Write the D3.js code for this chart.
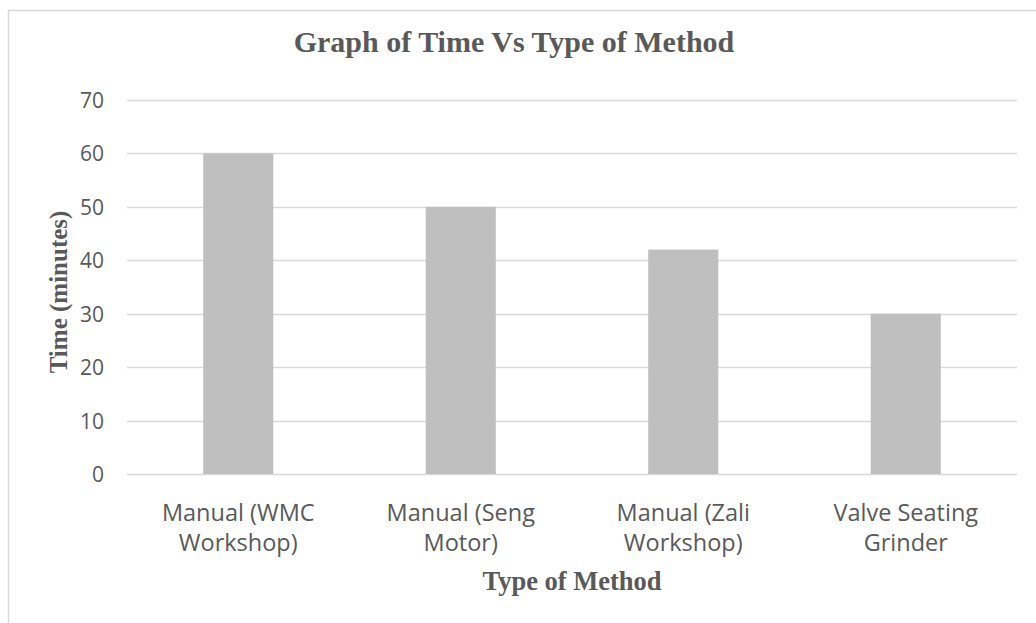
<!DOCTYPE html>
<html lang="en">
<head>
<meta charset="utf-8">
<title>Graph of Time Vs Type of Method</title>
<script src="https://cdnjs.cloudflare.com/ajax/libs/d3/7.8.5/d3.min.js"></script>
<style>
  body { margin: 0; background: #fff; }
  svg { display: block; }
  .tick-label { font-family: "Open Sans", Lato, sans-serif; font-size: 21px; fill: #595959; }
  .cat-label { font-family: "Open Sans", Lato, sans-serif; font-size: 23.5px; fill: #595959; }
  .serif-title { font-family: "Liberation Serif", "Times New Roman", serif; font-weight: bold; fill: #595959; }
</style>
</head>
<body>
<div id="chart"></div>
<script>
// chart data
var categories = [
  ["Manual (WMC", "Workshop)"],
  ["Manual (Seng", "Motor)"],
  ["Manual (Zali", "Workshop)"],
  ["Valve Seating", "Grinder"]
];
var times = [60, 50, 42, 30];
var yTicks = [0, 10, 20, 30, 40, 50, 60, 70];

var width = 1036, height = 623;
var plot = { left: 127, right: 1017, top: 100, bottom: 474 };

var svg = d3.select("#chart").append("svg")
  .attr("width", width)
  .attr("height", height);

// outer chart frame (right / bottom run off the picture)
svg.append("rect")
  .attr("x", 8.5).attr("y", 10.5)
  .attr("width", 1100).attr("height", 700)
  .attr("fill", "#fff")
  .attr("stroke", "#d9d9d9")
  .attr("stroke-width", 1.5);

var x = d3.scaleBand()
  .domain(d3.range(categories.length))
  .range([plot.left, plot.right])
  .paddingInner(0.685)
  .paddingOuter(0.3425);

var y = d3.scaleLinear()
  .domain([0, 70])
  .range([plot.bottom, plot.top]);

// gridlines
svg.append("g")
  .selectAll("line")
  .data(yTicks)
  .join("line")
  .attr("x1", plot.left).attr("x2", plot.right)
  .attr("y1", function(d) { return Math.round(y(d)) + 0.5; })
  .attr("y2", function(d) { return Math.round(y(d)) + 0.5; })
  .attr("stroke", "#d9d9d9")
  .attr("stroke-width", 1.5);

// y tick labels
var yAxis = d3.axisLeft(y).tickValues(yTicks).tickSize(0).tickPadding(0);
var gy = svg.append("g")
  .attr("transform", "translate(" + 104 + ",0)")
  .call(yAxis);
gy.select(".domain").remove();
gy.selectAll("text")
  .attr("class", "tick-label")
  .attr("fill", null)
  .attr("font-size", null)
  .attr("font-family", null)
  .attr("dy", "0.36em");

// bars
svg.append("g")
  .selectAll("rect")
  .data(times)
  .join("rect")
  .attr("x", function(d, i) { return x(i); })
  .attr("y", function(d) { return y(d); })
  .attr("width", x.bandwidth())
  .attr("height", function(d) { return y(0) - y(d); })
  .attr("fill", "#bfbfbf");

// category labels (two lines each)
var catG = svg.append("g")
  .selectAll("text")
  .data(categories)
  .join("text")
  .attr("class", "cat-label")
  .attr("text-anchor", "middle")
  .attr("x", function(d, i) { return x(i) + x.bandwidth() / 2; })
  .attr("y", 521);
catG.selectAll("tspan")
  .data(function(d) { return d; })
  .join("tspan")
  .attr("x", function() { return d3.select(this.parentNode).attr("x"); })
  .attr("dy", function(d, i) { return i === 0 ? 0 : 30; })
  .text(function(d) { return d; });

// titles
svg.append("text")
  .attr("class", "serif-title")
  .attr("x", 514).attr("y", 52)
  .attr("text-anchor", "middle")
  .attr("font-size", 30)
  .text("Graph of Time Vs Type of Method");

svg.append("text")
  .attr("class", "serif-title")
  .attr("x", 572).attr("y", 590)
  .attr("text-anchor", "middle")
  .attr("font-size", 26.5)
  .text("Type of Method");

svg.append("text")
  .attr("class", "serif-title")
  .attr("transform", "translate(67,292) rotate(-90)")
  .attr("text-anchor", "middle")
  .attr("font-size", 25)
  .text("Time (minutes)");
</script>
</body>
</html>
